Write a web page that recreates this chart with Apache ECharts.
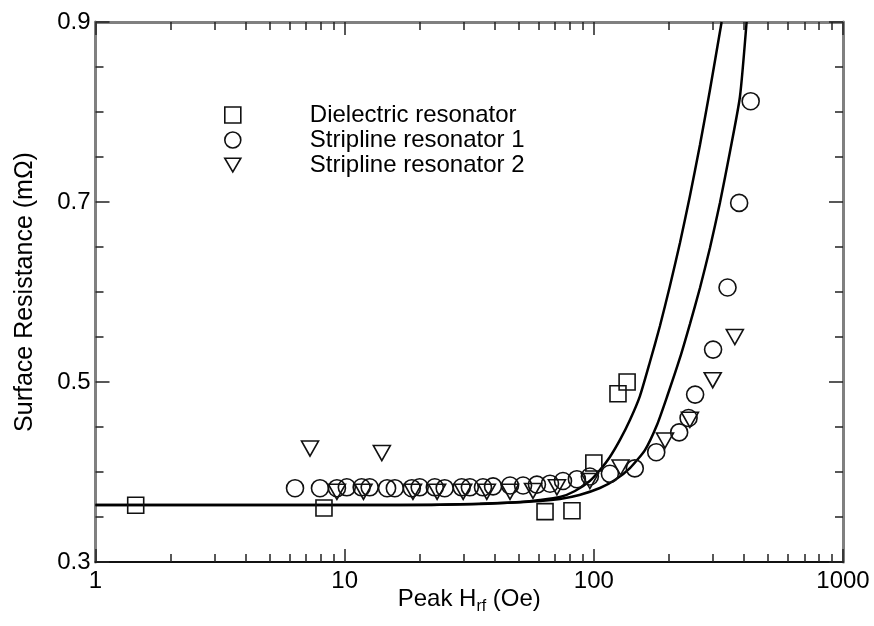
<!DOCTYPE html>
<html>
<head>
<meta charset="utf-8">
<script src="https://cdn.jsdelivr.net/npm/echarts@6/dist/echarts.min.js"></script>
<style>
html,body{margin:0;padding:0;background:#fff;}
#c{width:874px;height:626px;}
</style>
</head>
<body>
<div id="c"></div>
<script>
// ---- data ----
const seriesNames = ['Dielectric resonator', 'Stripline resonator 1', 'Stripline resonator 2'];

const dielectricH = [1.45, 8.26, 63.7, 81.7, 100, 125, 136];
const dielectricR = [0.363, 0.360, 0.356, 0.357, 0.410, 0.487, 0.500];

const strip1H = [6.32, 7.96, 9.31, 10.2, 11.7, 12.6, 14.8, 15.9, 18.6, 20.0, 23.0, 25.2, 29.5, 31.8, 35.9, 39.4, 46.1, 52.0, 59.1, 66.7, 75.2, 85.5, 96.4, 116, 146, 178, 220, 240, 255, 301, 344, 383, 426];
const strip1R = [0.382, 0.382, 0.382, 0.383, 0.383, 0.383, 0.382, 0.382, 0.382, 0.383, 0.383, 0.382, 0.383, 0.383, 0.383, 0.384, 0.385, 0.385, 0.386, 0.387, 0.390, 0.392, 0.395, 0.398, 0.404, 0.422, 0.444, 0.460, 0.486, 0.536, 0.605, 0.699, 0.812];

const strip2H = [7.26, 14.1, 9.31, 11.9, 18.8, 23.5, 29.9, 37.2, 46.1, 57.0, 71.1, 96.4, 128, 193, 243, 300, 368];
const strip2R = [0.426, 0.421, 0.378, 0.378, 0.378, 0.378, 0.378, 0.378, 0.378, 0.379, 0.383, 0.390, 0.405, 0.435, 0.458, 0.502, 0.550];

const curve1H = [1, 16.7, 34.9, 50.5, 60.8, 73.1, 84.0, 96.3, 105.8, 116.0, 127.3, 139.6, 153.1, 167.9, 184.2, 202.0, 221.6, 243.0, 266.6, 292.4, 325.7];
const curve1R = [0.3633, 0.3633, 0.3644, 0.3667, 0.3689, 0.3722, 0.3789, 0.3900, 0.4022, 0.4167, 0.4356, 0.4578, 0.4844, 0.5222, 0.5622, 0.6067, 0.6544, 0.7067, 0.7633, 0.8244, 0.9000];

const curve2H = [1, 20.0, 42.0, 60.8, 73.1, 87.5, 105.8, 121.5, 139.6, 160.4, 179.2, 196.5, 221.6, 243.0, 266.6, 292.4, 320.6, 351.7, 385.7, 410.3];
const curve2R = [0.3633, 0.3633, 0.3656, 0.3678, 0.3700, 0.3744, 0.3822, 0.3911, 0.4044, 0.4244, 0.4522, 0.4833, 0.5267, 0.5644, 0.6044, 0.6489, 0.6989, 0.7556, 0.8167, 0.9000];

const xMajorTicks = [1, 10, 100, 1000];
const xMinorTicks = [2, 3, 4, 5, 6, 7, 8, 9, 20, 30, 40, 50, 60, 70, 80, 90, 200, 300, 400, 500, 600, 700, 800, 900];
const yLabelTicks = [0.3, 0.5, 0.7, 0.9];

// ---- build ----
const zip = (a, b) => a.map((v, i) => [v, b[i]]);
const FONT = "'Liberation Sans', Arial, Helvetica, sans-serif";
const GRAY = '#808080';
const TICK = '#222';

function xAx(pos, ticks, len, showLine, showLabel, lineColor, lineWidth, extra) {
  return Object.assign({
    type: 'log', logBase: 10, min: 1, max: 1000, position: pos,
    axisLine: { show: showLine, onZero: false, lineStyle: { color: lineColor, width: lineWidth } },
    axisTick: { show: true, inside: true, length: len, customValues: ticks, lineStyle: { color: TICK, width: 1.5 } },
    axisLabel: { show: showLabel, fontSize: 24, color: '#000', fontFamily: FONT, margin: 7,
      formatter: v => String(Math.round(v)) },
    splitLine: { show: false }, minorTick: { show: false }, minorSplitLine: { show: false }
  }, extra || {});
}

const markerStyle = { color: 'rgba(0,0,0,0)', borderColor: '#111', borderWidth: 1.6, opacity: 1 };

const option = {
  backgroundColor: '#fff',
  animation: false,
  grid: { left: 95.5, right: 31, top: 22, bottom: 64, containLabel: false, outerBoundsMode: 'none' },
  legend: {
    data: [
      { name: seriesNames[0], icon: 'rect' },
      { name: seriesNames[1], icon: 'circle' },
      { name: seriesNames[2], icon: 'path://M0,0 L20,0 L10,17 Z' }
    ],
    orient: 'vertical',
    left: 219, top: 98,
    itemWidth: 16, itemHeight: 16, itemGap: 1,
    itemStyle: { color: 'rgba(0,0,0,0)', borderColor: '#111', borderWidth: 1.6 },
    textStyle: { fontSize: 24, color: '#000', fontFamily: FONT, lineHeight: 23, padding: [0, 0, 0, 64] }
  },
  xAxis: [
    xAx('bottom', xMajorTicks, 13, true, true, '#111', 2, {
      name: '{n|Peak H}{s|rf}{n| (Oe)}',
      nameLocation: 'middle', nameGap: 21, nameMoveOverlap: false,
      nameTextStyle: {
        fontFamily: FONT, color: '#000',
        rich: {
          n: { fontSize: 24, fontFamily: FONT, color: '#000' },
          s: { fontSize: 16, fontFamily: FONT, color: '#000', padding: [16, 0, 0, 0] }
        }
      }
    }),
    xAx('bottom', xMinorTicks, 8, false, false, '#111', 2),
    xAx('top', xMajorTicks, 13, true, false, GRAY, 3),
    xAx('top', xMinorTicks, 8, false, false, GRAY, 3)
  ],
  yAxis: [
    {
      type: 'value', min: 0.3, max: 0.9, interval: 0.2, position: 'left',
      name: 'Surface Resistance (m\u03A9)', nameLocation: 'middle', nameGap: 58, nameRotate: 90,
      nameTextStyle: { fontSize: 25, color: '#000', fontFamily: FONT },
      axisLine: { show: true, onZero: false, lineStyle: { color: GRAY, width: 3 } },
      axisTick: { show: true, inside: true, length: 14, lineStyle: { color: TICK, width: 1.5 } },
      minorTick: { show: true, splitNumber: 4, length: 8, lineStyle: { color: TICK, width: 1.5 } },
      axisLabel: { fontSize: 24, color: '#000', fontFamily: FONT, margin: 5, customValues: yLabelTicks,
        formatter: v => v.toFixed(1) },
      splitLine: { show: false }
    },
    {
      type: 'value', min: 0.3, max: 0.9, interval: 0.2, position: 'right',
      axisLine: { show: true, onZero: false, lineStyle: { color: GRAY, width: 3 } },
      axisTick: { show: true, inside: true, length: 14, lineStyle: { color: TICK, width: 1.5 } },
      minorTick: { show: true, splitNumber: 4, length: 8, lineStyle: { color: TICK, width: 1.5 } },
      axisLabel: { show: false },
      splitLine: { show: false }
    }
  ],
  series: [
    {
      name: 'curve1', type: 'line', data: zip(curve1H, curve1R), showSymbol: false, smooth: 0.2,
      clip: true, lineStyle: { color: '#000', width: 2.5 }, silent: true, z: 2
    },
    {
      name: 'curve2', type: 'line', data: zip(curve2H, curve2R), showSymbol: false, smooth: 0.2,
      clip: true, lineStyle: { color: '#000', width: 2.5 }, silent: true, z: 2
    },
    {
      name: seriesNames[0], type: 'scatter', data: zip(dielectricH, dielectricR),
      symbol: 'rect', symbolSize: 16, itemStyle: markerStyle, z: 3
    },
    {
      name: seriesNames[1], type: 'scatter', data: zip(strip1H, strip1R),
      symbol: 'circle', symbolSize: 17, itemStyle: markerStyle, z: 3
    },
    {
      name: seriesNames[2], type: 'scatter', data: zip(strip2H, strip2R),
      symbol: 'triangle', symbolSize: [17, 15], symbolRotate: 180, itemStyle: markerStyle, z: 3
    }
  ]
};

const chart = echarts.init(document.getElementById('c'), null, { renderer: 'canvas' });
chart.setOption(option);
</script>
</body>
</html>
